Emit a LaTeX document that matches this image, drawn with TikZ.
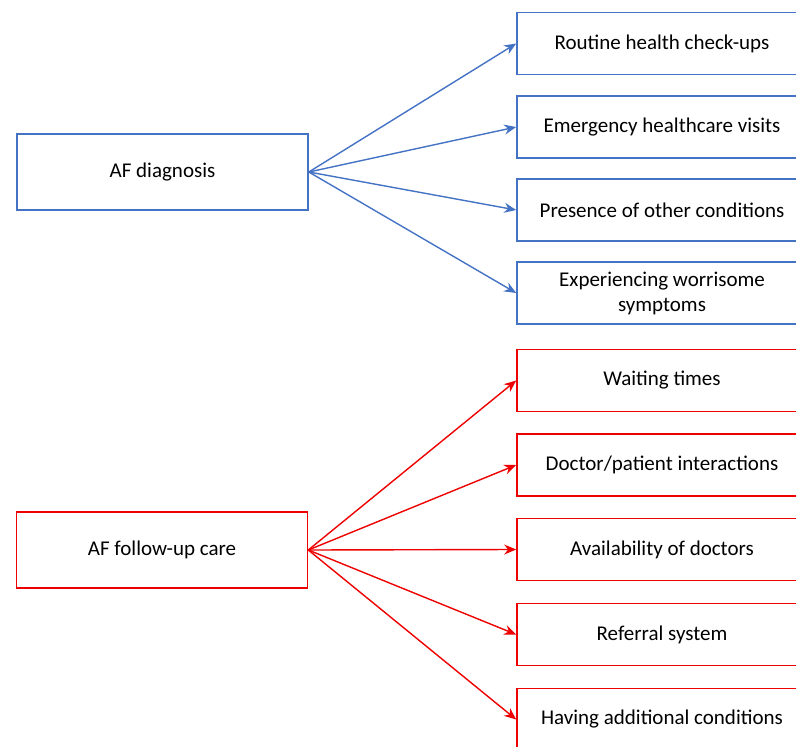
\documentclass[tikz,border=0pt]{standalone}
\usepackage{fontspec}
\setmainfont{Carlito}
\usetikzlibrary{arrows.meta}
\definecolor{bl}{RGB}{68,114,196}
\definecolor{rd}{RGB}{238,0,0}
\begin{document}
\begin{tikzpicture}[x=1pt,y=-1pt,
  box/.style={draw, line width=1.6pt, inner sep=0pt, align=center,
    font=\fontsize{21}{25}\selectfont, fill=white},
  rbox/.style={box, minimum width=290pt, minimum height=62pt},
  lbox/.style={box, minimum width=291pt, minimum height=76pt},
  conn/.style={line width=1.4pt, -{Stealth[length=12pt,width=10pt]}}]
\useasboundingbox (0,0) rectangle (796,747);
\clip (0,0) rectangle (796,747);
% blue group
\node[lbox, draw=bl] (ad) at (162.5,172) {AF diagnosis};
\node[rbox, draw=bl] (b1) at (662,43.5) {Routine health check-ups};
\node[rbox, draw=bl] (b2) at (662,127) {Emergency healthcare visits};
\node[rbox, draw=bl] (b3) at (662,210) {Presence of other conditions};
\node[rbox, draw=bl] (b4) at (662,293) {Experiencing worrisome\\symptoms};
\foreach \t in {b1,b2,b3,b4} \draw[conn, bl] (ad.east) -- (\t.west);
% red group
\node[lbox, draw=rd] (af) at (162,550) {AF follow-up care};
\node[rbox, draw=rd] (r1) at (662,380.5) {Waiting times};
\node[rbox, draw=rd] (r2) at (662,465) {Doctor/patient interactions};
\node[rbox, draw=rd] (r3) at (662,549.5) {Availability of doctors};
\node[rbox, draw=rd] (r4) at (662,634.5) {Referral system};
\node[rbox, draw=rd] (r5) at (662,719.5) {Having additional conditions};
\foreach \t in {r1,r2,r3,r4,r5} \draw[conn, rd] (af.east) -- (\t.west);
\end{tikzpicture}
\end{document}
